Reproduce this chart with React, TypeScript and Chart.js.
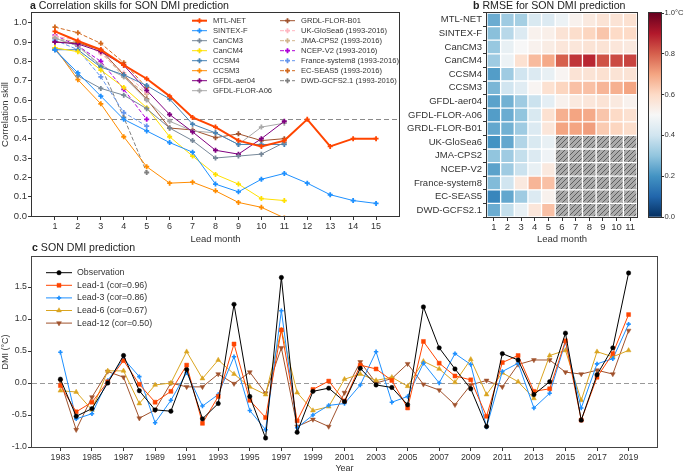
import React, { useEffect, useRef } from "react";
import { Chart, registerables } from "chart.js";
import { drawPoint } from "chart.js/helpers";

Chart.register(...registerables);

const FONT = "'Liberation Sans', Arial, sans-serif";
Chart.defaults.font.family = FONT;
Chart.defaults.color = "#333";

// ---------- Panel a: correlation skill ----------
const LEADS = [1, 2, 3, 4, 5, 6, 7, 8, 9, 10, 11, 12, 13, 14, 15];
const MTL_NET = [0.955, 0.905, 0.86, 0.78, 0.71, 0.62, 0.51, 0.46, 0.39, 0.36, 0.39, 0.5, 0.36, 0.4, 0.4];
const SINTEX_F = [0.86, 0.74, 0.62, 0.5, 0.44, 0.38, 0.33, 0.165, 0.125, 0.19, 0.22, 0.17, 0.11, 0.08, 0.065];
const CANCM3 = [0.86, 0.725, 0.66, 0.625, 0.555, 0.455, 0.39, 0.3, 0.31, 0.32, 0.38];
const CANCM4 = [0.87, 0.85, 0.755, 0.665, 0.56, 0.41, 0.31, 0.215, 0.165, 0.09, 0.08];
const CCSM4 = [0.86, 0.86, 0.77, 0.73, 0.675, 0.605, 0.475, 0.43, 0.37, 0.37, 0.37];
const CCSM3 = [0.87, 0.705, 0.58, 0.41, 0.255, 0.17, 0.175, 0.13, 0.07, 0.045, -0.01];
const GFDL_AER04 = [0.9, 0.89, 0.85, 0.78, 0.65, 0.525, 0.435, 0.34, 0.32, 0.4, 0.49];
const GFDL_FLOR_A06 = [0.92, 0.88, 0.78, 0.72, 0.6, 0.49, 0.44, 0.43, 0.37, 0.46, 0.48];
const GRDL_FLOR_B01 = [0.9, 0.895, 0.86, 0.73, 0.605, 0.455, 0.445, 0.405, 0.425, 0.39, 0.4];
const UK_GLOSEA6 = [0.93, 0.91, 0.84, 0.74, 0.64];
const JMA_CPS2 = [0.92, 0.9, 0.85, 0.72, 0.63];
const NCEP_V2 = [0.935, 0.88, 0.8, 0.655, 0.5];
const FRANCE_SYS8 = [0.91, 0.86, 0.72, 0.535, 0.465];
const EC_SEAS5 = [0.977, 0.948, 0.893, 0.793, 0.664];
const DWD_GCFS21 = [0.92, 0.88, 0.775, 0.51, 0.225];
const SKILL_YTICKS = [0, 0.1, 0.2, 0.3, 0.4, 0.5, 0.6, 0.7, 0.8, 0.9, 1.0];
const SKILL_REF = 0.5;

// ---------- Panel b: RMSE heatmap ----------
const HEAT_MODELS = [
  "MTL-NET", "SINTEX-F", "CanCM3", "CanCM4", "CCSM4", "CCSM3", "GFDL-aer04",
  "GFDL-FLOR-A06", "GRDL-FLOR-B01", "UK-GloSea6", "JMA-CPS2", "NCEP-V2",
  "France-system8", "EC-SEAS5", "DWD-GCFS2.1",
];
const HEAT_LEADS = [1, 2, 3, 4, 5, 6, 7, 8, 9, 10, 11];
const RMSE_MTL_NET = [0.25, 0.32, 0.33, 0.42, 0.43, 0.47, 0.52, 0.55, 0.57, 0.57, 0.58];
const RMSE_SINTEX_F = [0.29, 0.36, 0.43, 0.52, 0.53, 0.57, 0.59, 0.61, 0.64, 0.6, 0.6];
const RMSE_CANCM3 = [0.31, 0.46, 0.5, 0.52, 0.54, 0.56, 0.56, 0.57, 0.57, 0.56, 0.55];
const RMSE_CANCM4 = [0.32, 0.47, 0.58, 0.66, 0.69, 0.8, 0.86, 0.88, 0.82, 0.83, 0.84];
const RMSE_CCSM4 = [0.22, 0.32, 0.4, 0.43, 0.46, 0.51, 0.57, 0.57, 0.58, 0.57, 0.57];
const RMSE_CCSM3 = [0.27, 0.4, 0.44, 0.51, 0.58, 0.61, 0.65, 0.65, 0.67, 0.68, 0.7];
const RMSE_GFDL_AER04 = [0.23, 0.26, 0.32, 0.39, 0.45, 0.52, 0.55, 0.56, 0.57, 0.55, 0.52];
const RMSE_GFDL_FLOR_A06 = [0.22, 0.25, 0.3, 0.42, 0.58, 0.68, 0.7, 0.69, 0.64, 0.6, 0.58];
const RMSE_GRDL_FLOR_B01 = [0.24, 0.26, 0.32, 0.43, 0.56, 0.7, 0.7, 0.71, 0.63, 0.61, 0.59];
const RMSE_UK_GLOSEA6 = [0.2, 0.24, 0.35, 0.42, 0.46];
const RMSE_JMA_CPS2 = [0.3, 0.32, 0.38, 0.43, 0.48];
const RMSE_NCEP_V2 = [0.23, 0.32, 0.39, 0.46, 0.55];
const RMSE_FRANCE_SYS8 = [0.28, 0.4, 0.55, 0.67, 0.65];
const RMSE_EC_SEAS5 = [0.17, 0.24, 0.32, 0.43, 0.52];
const RMSE_DWD_GCFS21 = [0.25, 0.38, 0.46, 0.56, 0.65];
const RMSE_ROWS = [
  RMSE_MTL_NET, RMSE_SINTEX_F, RMSE_CANCM3, RMSE_CANCM4, RMSE_CCSM4, RMSE_CCSM3,
  RMSE_GFDL_AER04, RMSE_GFDL_FLOR_A06, RMSE_GRDL_FLOR_B01, RMSE_UK_GLOSEA6,
  RMSE_JMA_CPS2, RMSE_NCEP_V2, RMSE_FRANCE_SYS8, RMSE_EC_SEAS5, RMSE_DWD_GCFS21,
];
const CBAR_TICKS = [0, 0.2, 0.4, 0.6, 0.8, 1.0];
const CBAR_RANGE = [0, 1];

// ---------- Panel c: DMI time series ----------
const YEARS = [
  1983, 1984, 1985, 1986, 1987, 1988, 1989, 1990, 1991, 1992, 1993, 1994, 1995,
  1996, 1997, 1998, 1999, 2000, 2001, 2002, 2003, 2004, 2005, 2006, 2007, 2008,
  2009, 2010, 2011, 2012, 2013, 2014, 2015, 2016, 2017, 2018, 2019,
];
const OBS = [
  0.06, -0.52, -0.4, 0.0, 0.43, -0.12, -0.42, -0.44, 0.21, -0.56, -0.32, 1.23,
  -0.21, -0.86, 1.65, -0.77, -0.13, -0.08, -0.29, 0.23, -0.03, -0.07, -0.34, 1.19, 0.55, 0.22,
  -0.09, -0.68, 0.46, 0.36, -0.18, 0.02, 0.78, -0.58, 0.13, 0.55, 1.72,
];
const LEAD1 = [
  -0.04, -0.45, -0.3, 0.02, 0.35, -0.02, -0.3, -0.13, 0.28, -0.63, -0.21, 0.61,
  -0.27, -0.54, 0.83, -0.59, -0.1, 0.03, -0.28, 0.28, 0.22, 0.04, -0.39, 0.65, 0.31, 0.11,
  0.05, -0.52, 0.32, 0.43, -0.13, -0.09, 0.66, -0.58, 0.09, 0.46, 1.07,
];
const LEAD3 = [
  0.48, -0.56, -0.48, 0.04, 0.38, 0.1, -0.62, -0.27, 0.16, -0.36, -0.18, 0.41,
  -0.43, -0.73, 1.13, -0.7, -0.5, -0.35, -0.32, -0.03, 0.49, -0.3, -0.21, 0.31, 0.0, 0.46,
  0.29, -0.69, 0.18, 0.31, -0.39, -0.16, 0.64, -0.39, 0.3, 0.38, 0.92,
];
const LEAD6 = [
  -0.12, -0.14, -0.42, 0.19, 0.19, -0.32, -0.03, 0.0, 0.49, 0.07, 0.36, 0.14,
  -0.06, -0.18, 0.83, -0.15, -0.43, -0.37, 0.06, 0.14, 0.04, 0.09, -0.05, 0.34, 0.22, 0.01,
  0.37, -0.18, 0.16, 0.02, -0.24, 0.43, 0.51, -0.27, 0.49, 0.41, 0.51,
];
const LEAD12 = [
  0.03, -0.73, -0.22, 0.18, 0.09, -0.55, -0.42, 0.0, -0.06, -0.06, 0.14, -0.01,
  0.17, -0.16, 0.55, -0.68, -0.57, -0.68, -0.15, 0.33, 0.0, 0.07, 0.3, -0.02, -0.11, -0.34,
  -0.03, 0.04, -0.06, 0.29, 0.36, 0.36, 0.17, 0.14, 0.2, 0.14, 0.82,
];
const YEAR_TICKS = [1983, 1985, 1987, 1989, 1991, 1993, 1995, 1997, 1999, 2001, 2003, 2005, 2007, 2009, 2011, 2013, 2015, 2017, 2019];
const DMI_TICKS = [-1.0, -0.5, 0.0, 0.5, 1.0, 1.5];
const DMI_RANGE = [-1.0, 1.97];
const YEAR_RANGE = [1981.2, 2020.8];
const DMI_REF = 0;

// ---------- helpers ----------
const RDBU_R = ["#053061", "#2166ac", "#4393c3", "#92c5de", "#d1e5f0", "#f7f7f7", "#fddbc7", "#f4a582", "#d6604d", "#b2182b", "#67001f"];
function hexRgb(h: string) {
  const n = parseInt(h.slice(1), 16);
  return [(n >> 16) & 255, (n >> 8) & 255, n & 255];
}
function cmap(v: number) {
  const t = Math.max(0, Math.min(1, v)) * 10;
  const i = Math.min(9, Math.floor(t));
  const f = t - i;
  const a = hexRgb(RDBU_R[i]);
  const b = hexRgb(RDBU_R[i + 1]);
  const c = a.map((x, k) => Math.round(x + (b[k] - x) * f));
  return `rgb(${c[0]},${c[1]},${c[2]})`;
}
function makeHatch() {
  const c = document.createElement("canvas");
  c.width = 5;
  c.height = 5;
  const g = c.getContext("2d")!;
  g.fillStyle = "#ababab";
  g.fillRect(0, 0, 5, 5);
  g.strokeStyle = "#555";
  g.lineWidth = 0.9;
  g.beginPath();
  g.moveTo(0, 5); g.lineTo(5, 0);
  g.moveTo(-1, 1); g.lineTo(1, -1);
  g.moveTo(4, 6); g.lineTo(6, 4);
  g.stroke();
  return g.createPattern(c, "repeat");
}

const framePlugin = {
  id: "frame",
  afterDatasetsDraw(chart: any, _a: any, opts: any) {
    const { ctx, chartArea: a } = chart;
    ctx.save();
    ctx.strokeStyle = opts.color || "#333";
    ctx.lineWidth = opts.width || 1;
    ctx.strokeRect(Math.round(a.left) - 0.5, Math.round(a.top) - 0.5, Math.round(a.width) + 1, Math.round(a.height) + 1);
    ctx.restore();
  },
};

const refLinePlugin = {
  id: "refLine",
  beforeDatasetsDraw(chart: any, _a: any, opts: any) {
    const { ctx, chartArea: a, scales } = chart;
    const y = Math.round(scales.y.getPixelForValue(opts.value)) + 0.5;
    ctx.save();
    ctx.strokeStyle = opts.color || "#888";
    ctx.lineWidth = 1;
    ctx.setLineDash(opts.dash || [5, 3]);
    ctx.beginPath();
    ctx.moveTo(a.left, y);
    ctx.lineTo(a.right, y);
    ctx.stroke();
    ctx.restore();
  },
};

const inLegendPlugin = {
  id: "inLegend",
  afterDraw(chart: any, _a: any, opts: any) {
    const { ctx } = chart;
    ctx.save();
    ctx.font = `${opts.fontSize}px ${FONT}`;
    ctx.textBaseline = "middle";
    chart.data.datasets.forEach((ds: any, i: number) => {
      const col = Math.floor(i / opts.perCol);
      const row = i % opts.perCol;
      const x0 = opts.cols[col];
      const y = opts.y0 + row * opts.dy;
      ctx.strokeStyle = ds.borderColor;
      ctx.lineWidth = ds.borderWidth;
      ctx.setLineDash(ds.borderDash || []);
      ctx.beginPath();
      ctx.moveTo(x0, y);
      ctx.lineTo(x0 + opts.lineLen, y);
      ctx.stroke();
      ctx.setLineDash([]);
      ctx.fillStyle = ds.pointBackgroundColor || ds.borderColor;
      ctx.strokeStyle = ds.borderColor;
      ctx.lineWidth = ds.pointBorderWidth || 1;
      drawPoint(ctx, { pointStyle: ds.pointStyle, radius: ds.pointRadius, rotation: ds.pointRotation || 0, borderWidth: ds.pointBorderWidth || 1 } as any, x0 + opts.lineLen / 2, y);
      ctx.fillStyle = "#333";
      ctx.fillText(ds.label, x0 + opts.lineLen + opts.gap, y);
    });
    ctx.restore();
  },
};

function tickCfg(size: number) {
  return { font: { size }, color: "#333", padding: 1, maxRotation: 0, autoSkip: false };
}
const tickGrid = { display: true, drawOnChartArea: false, tickLength: 4, color: "#333", tickColor: "#333" };

// ---------- components ----------
function SkillChart() {
  const ref = useRef<HTMLCanvasElement>(null);
  useEffect(() => {
    const series = [
      { label: "MTL-NET", data: MTL_NET, color: "#ff4500", width: 2, dash: false },
      { label: "SINTEX-F", data: SINTEX_F, color: "#1e90ff", width: 1, dash: false },
      { label: "CanCM3", data: CANCM3, color: "#778899", width: 1, dash: false },
      { label: "CanCM4", data: CANCM4, color: "#ffe000", width: 1, dash: false },
      { label: "CCSM4", data: CCSM4, color: "#4682b4", width: 1, dash: false },
      { label: "CCSM3", data: CCSM3, color: "#ff8c00", width: 1, dash: false },
      { label: "GFDL-aer04", data: GFDL_AER04, color: "#800080", width: 1, dash: false },
      { label: "GFDL-FLOR-A06", data: GFDL_FLOR_A06, color: "#a9a9a9", width: 1, dash: false },
      { label: "GRDL-FLOR-B01", data: GRDL_FLOR_B01, color: "#a0522d", width: 1, dash: false },
      { label: "UK-GloSea6 (1993-2016)", data: UK_GLOSEA6, color: "#ffb6c1", width: 1, dash: true },
      { label: "JMA-CPS2 (1993-2016)", data: JMA_CPS2, color: "#d2b48c", width: 1, dash: true },
      { label: "NCEP-V2 (1993-2016)", data: NCEP_V2, color: "#b000d8", width: 1, dash: true },
      { label: "France-system8 (1993-2016)", data: FRANCE_SYS8, color: "#6495ed", width: 1, dash: true },
      { label: "EC-SEAS5 (1993-2016)", data: EC_SEAS5, color: "#d2691e", width: 1, dash: true },
      { label: "DWD-GCFS2.1 (1993-2016)", data: DWD_GCFS21, color: "#808080", width: 1, dash: true },
    ];
    const chart = new Chart(ref.current!, {
      type: "line",
      data: {
        datasets: series.map((s) => ({
          label: s.label,
          data: s.data.map((v, i) => ({ x: LEADS[i], y: v })),
          borderColor: s.color,
          backgroundColor: s.color,
          pointBackgroundColor: s.color,
          borderWidth: s.width,
          borderDash: s.dash ? [4, 2] : [],
          pointStyle: "cross",
          pointRadius: 2.5,
          pointBorderWidth: 1.8,
          tension: 0,
        })),
      },
      options: {
        animation: false,
        responsive: false,
        devicePixelRatio: 1,
        layout: { padding: { left: 0, right: 11, top: 13, bottom: 0 } },
        plugins: {
          legend: { display: false },
          tooltip: { enabled: false },
          refLine: { value: SKILL_REF, color: "#8a8a8a", dash: [5, 3] },
          frame: { color: "#333" },
          inLegend: { fontSize: 7.6, perCol: 8, cols: [192, 280], y0: 20.7, dy: 10, lineLen: 15, gap: 6 },
        } as any,
        scales: {
          x: {
            type: "linear", min: 0, max: 16,
            afterBuildTicks: (s: any) => { s.ticks = LEADS.map((v) => ({ value: v })); },
            ticks: { ...tickCfg(9), callback: (v: any) => String(v) },
            grid: tickGrid, border: { display: false },
            title: { display: true, text: "Lead month", font: { size: 9.5 }, padding: 0, color: "#333" },
            afterFit: (s: any) => { s.height = 29; },
          },
          y: {
            type: "linear", min: 0, max: 1.05,
            afterBuildTicks: (s: any) => { s.ticks = SKILL_YTICKS.map((v) => ({ value: v })); },
            ticks: { ...tickCfg(9.5), callback: (v: any) => Number(v).toFixed(1) },
            grid: tickGrid, border: { display: false },
            title: { display: true, text: "Correlation skill", font: { size: 9.5 }, padding: 0, color: "#333" },
            afterFit: (s: any) => { s.width = 32; },
          },
        },
      } as any,
      plugins: [framePlugin, refLinePlugin, inLegendPlugin],
    });
    return () => chart.destroy();
  }, []);
  return <canvas ref={ref} width={410} height={245} style={{ position: "absolute", left: 0, top: 0, width: 410, height: 245 }} />;
}

function HeatChart() {
  const ref = useRef<HTMLCanvasElement>(null);
  useEffect(() => {
    const hatch = makeHatch();
    const chart = new Chart(ref.current!, {
      type: "bar",
      data: {
        labels: HEAT_MODELS,
        datasets: HEAT_LEADS.map((L, j) => ({
          label: String(L),
          data: HEAT_MODELS.map(() => [L - 0.5, L + 0.5]),
          backgroundColor: RMSE_ROWS.map((row) => (row[j] === undefined || row[j] === null ? hatch : cmap(row[j]))),
          borderColor: "#ffffff",
          borderWidth: 1,
          borderSkipped: false,
          barPercentage: 1,
          categoryPercentage: 1,
          grouped: false,
        })),
      },
      options: {
        indexAxis: "y",
        animation: false,
        responsive: false,
        devicePixelRatio: 1,
        layout: { padding: { left: 0, right: 8, top: 13, bottom: 0 } },
        plugins: { legend: { display: false }, tooltip: { enabled: false }, frame: { color: "#333" } } as any,
        scales: {
          x: {
            type: "linear", min: 0.5, max: 11.5,
            afterBuildTicks: (s: any) => { s.ticks = HEAT_LEADS.map((v) => ({ value: v })); },
            ticks: { ...tickCfg(9.5), callback: (v: any) => String(v) },
            grid: tickGrid, border: { display: false },
            title: { display: true, text: "Lead month", font: { size: 9.5 }, padding: 0, color: "#333" },
            afterFit: (s: any) => { s.height = 28; },
          },
          y: {
            type: "category",
            ticks: { ...tickCfg(9.5) },
            grid: tickGrid, border: { display: false },
            afterFit: (s: any) => { s.width = 82; },
          },
        },
      } as any,
      plugins: [framePlugin],
    });
    return () => chart.destroy();
  }, []);
  return <canvas ref={ref} width={240} height={245} style={{ position: "absolute", left: 405, top: 0, width: 240, height: 245 }} />;
}

function ColorBar() {
  const ref = useRef<HTMLCanvasElement>(null);
  useEffect(() => {
    const chart = new Chart(ref.current!, {
      type: "bar",
      data: {
        labels: ["RMSE"],
        datasets: [{
          data: [CBAR_RANGE as any],
          backgroundColor: (c: any) => {
            const a = c.chart.chartArea;
            if (!a) return "#fff";
            const g = c.chart.ctx.createLinearGradient(0, a.bottom, 0, a.top);
            RDBU_R.forEach((col, i) => g.addColorStop(i / (RDBU_R.length - 1), col));
            return g;
          },
          borderWidth: 0,
          barPercentage: 1,
          categoryPercentage: 1,
        }],
      },
      options: {
        animation: false,
        responsive: false,
        devicePixelRatio: 1,
        layout: { padding: { left: 5, right: 0, top: 13, bottom: 28 } },
        plugins: { legend: { display: false }, tooltip: { enabled: false }, frame: { color: "#333" } } as any,
        scales: {
          x: { display: false },
          y: {
            position: "right", min: CBAR_RANGE[0], max: CBAR_RANGE[1],
            afterBuildTicks: (s: any) => { s.ticks = CBAR_TICKS.map((v) => ({ value: v })); },
            ticks: { ...tickCfg(7.6), padding: 0.5, callback: (v: any) => (v === 1 ? "1.0°C" : Number(v).toFixed(1)) },
            grid: { ...tickGrid, tickLength: 3 }, border: { display: false },
            afterFit: (s: any) => { s.width = 24; },
          },
        },
      } as any,
      plugins: [framePlugin],
    });
    return () => chart.destroy();
  }, []);
  return <canvas ref={ref} width={41} height={245} style={{ position: "absolute", left: 644, top: 0, width: 41, height: 245 }} />;
}

function DmiChart() {
  const ref = useRef<HTMLCanvasElement>(null);
  useEffect(() => {
    const series = [
      { label: "Observation", data: OBS, color: "#000000", style: "circle", r: 2.2, rot: 0, bw: 0.5 },
      { label: "Lead-1 (cor=0.96)", data: LEAD1, color: "#ff4500", style: "rect", r: 2.8, rot: 0, bw: 0.5 },
      { label: "Lead-3 (cor=0.86)", data: LEAD3, color: "#1e90ff", style: "cross", r: 2.2, rot: 0, bw: 1.6 },
      { label: "Lead-6 (cor=0.67)", data: LEAD6, color: "#daa520", style: "triangle", r: 2.8, rot: 0, bw: 0.5 },
      { label: "Lead-12 (cor=0.50)", data: LEAD12, color: "#a0522d", style: "triangle", r: 2.8, rot: 180, bw: 0.5 },
    ];
    const chart = new Chart(ref.current!, {
      type: "line",
      data: {
        datasets: series.map((s) => ({
          label: s.label,
          data: s.data.map((v, i) => ({ x: YEARS[i], y: v })),
          borderColor: s.color,
          backgroundColor: s.color,
          pointBackgroundColor: s.color,
          borderWidth: 1,
          pointStyle: s.style,
          pointRadius: s.r,
          pointRotation: s.rot,
          pointBorderWidth: s.bw,
          tension: 0,
        })),
      },
      options: {
        animation: false,
        responsive: false,
        devicePixelRatio: 1,
        layout: { padding: { left: 0, right: 28, top: 17, bottom: 0 } },
        plugins: {
          legend: { display: false },
          tooltip: { enabled: false },
          refLine: { value: DMI_REF, color: "#999", dash: [5, 3] },
          frame: { color: "#444" },
          inLegend: { fontSize: 8.8, perCol: 5, cols: [46], y0: 32.7, dy: 12.6, lineLen: 26, gap: 5 },
        } as any,
        scales: {
          x: {
            type: "linear", min: YEAR_RANGE[0], max: YEAR_RANGE[1],
            afterBuildTicks: (s: any) => { s.ticks = YEAR_TICKS.map((v) => ({ value: v })); },
            ticks: { ...tickCfg(8.8), callback: (v: any) => String(v) },
            grid: tickGrid, border: { display: false },
            title: { display: true, text: "Year", font: { size: 9 }, padding: 0, color: "#333" },
            afterFit: (s: any) => { s.height = 27; },
          },
          y: {
            type: "linear", min: DMI_RANGE[0], max: DMI_RANGE[1],
            afterBuildTicks: (s: any) => { s.ticks = DMI_TICKS.map((v) => ({ value: v })); },
            ticks: { ...tickCfg(8.8), callback: (v: any) => Number(v).toFixed(1) },
            grid: tickGrid, border: { display: false },
            title: { display: true, text: "DMI (°C)", font: { size: 9 }, padding: 0, color: "#333" },
            afterFit: (s: any) => { s.width = 32; },
          },
        },
      } as any,
      plugins: [framePlugin, refLinePlugin, inLegendPlugin],
    });
    return () => chart.destroy();
  }, []);
  return <canvas ref={ref} width={685} height={234} style={{ position: "absolute", left: 0, top: 240, width: 685, height: 234 }} />;
}

const titleStyle: React.CSSProperties = {
  position: "absolute",
  fontFamily: FONT,
  fontSize: 10.6,
  lineHeight: "12px",
  color: "#222",
  whiteSpace: "nowrap",
};

export default function App() {
  return (
    <div style={{ position: "fixed", left: 0, top: 0, width: 685, height: 474, background: "#fff", overflow: "hidden" }}>
      <SkillChart />
      <HeatChart />
      <ColorBar />
      <DmiChart />
      <div style={{ ...titleStyle, left: 30, top: -1 }}><b>a</b> Correlation skills for SON DMI prediction</div>
      <div style={{ ...titleStyle, left: 473, top: -1 }}><b>b</b> RMSE for SON DMI prediction</div>
      <div style={{ ...titleStyle, left: 32, top: 241 }}><b>c</b> SON DMI prediction</div>
    </div>
  );
}
